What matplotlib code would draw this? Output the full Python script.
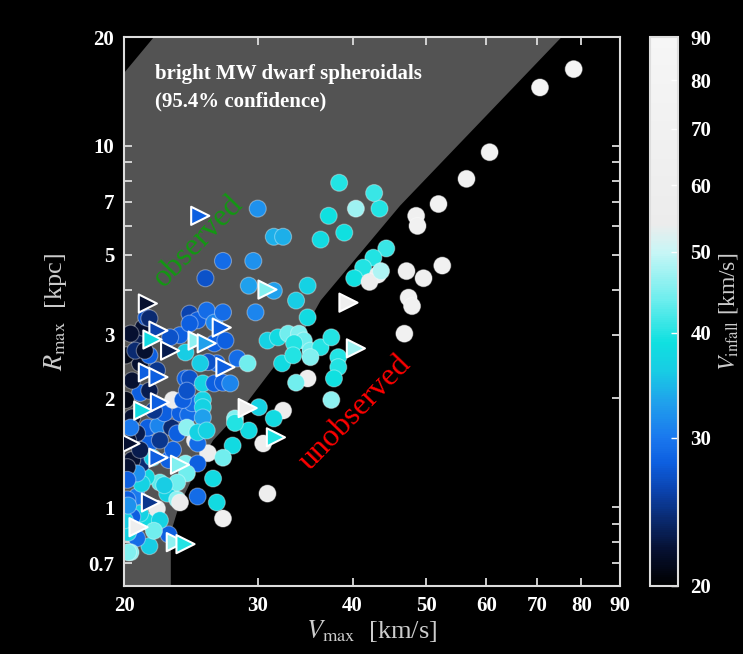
import numpy as np
import matplotlib.pyplot as plt
from matplotlib.colors import LinearSegmentedColormap, LogNorm

plt.rcParams['font.family'] = ['Liberation Serif', 'DejaVu Serif']
plt.rcParams['mathtext.fontset'] = 'stix'

# subhaloes shown as circles: Vmax [km/s], Rmax [kpc], Vinfall [km/s]
vmax_c = [78.2, 70.6, 60.6, 56.5, 51.9, 48.5, 48.7, 52.5, 49.6, 47.1, 47.4, 47.9, 46.8,
          43.4, 42.7, 40.4, 38.4, 37.2, 39.0, 36.3, 44.3, 42.6, 41.3, 40.2, 43.2, 42.1, 43.6,
          30.0, 31.5, 32.4, 27.0, 25.6, 29.6, 29.2, 31.5, 34.9, 33.7, 34.9, 29.8,
          30.9, 31.9, 32.9, 34.0, 34.5, 33.5, 35.2, 36.3, 37.5, 38.3, 38.3, 37.8, 34.9, 33.7,
          32.3, 33.4, 35.2, 37.5, 32.4, 30.1, 31.5, 29.2, 30.5, 27.8, 25.8, 27.0, 30.9, 26.2,
          26.5, 27.0, 25.0, 28.0, 28.0,
          22.9, 21.6, 20.8, 20.4, 21.5, 22.1, 20.8, 22.8, 23.5, 23.7, 22.9, 24.1, 24.8, 25.0,
          25.0, 24.2, 23.5, 22.3, 21.4, 21.1, 21.1, 20.5, 21.6, 21.5, 20.8, 22.2, 23.1, 23.5,
          22.6, 23.7, 24.3, 24.6, 25.4, 23.2, 21.0, 20.5, 20.5, 21.6, 22.1, 21.0, 21.6, 21.0,
          24.1, 23.7, 23.0, 21.2, 21.4, 20.4, 24.4, 25.0, 25.7, 26.3, 27.2, 26.3, 27.0, 28.2,
          29.1, 26.5, 25.8, 25.2, 24.1, 24.4, 25.4, 26.3, 27.0, 27.6, 23.9, 24.2, 25.4, 25.4,
          24.2, 25.0, 25.7, 23.2, 21.8, 20.8, 22.6, 21.0, 20.5, 20.2, 20.2, 20.2, 20.25, 20.25,
          20.1, 20.1, 20.25, 20.7, 21.3, 22.3, 21.0, 20.4, 21.9, 20.05, 20.25, 22.3, 21.9,
          24.4, 21.6]
rmax_c = [16.3, 14.5, 9.6, 8.1, 6.9, 6.4, 6.0, 4.66, 4.3, 4.5, 3.8, 3.6, 3.02,
          6.7, 7.4, 6.7, 7.9, 6.4, 5.75, 5.5, 5.2, 4.9, 4.6, 4.3, 4.4, 4.2, 4.5,
          6.7, 5.6, 5.6, 4.8, 4.3, 4.8, 4.1, 3.97, 4.1, 3.73, 3.35, 3.46,
          2.89, 2.95, 3.02, 3.02, 2.89, 2.84, 2.71, 2.77, 2.95, 2.6, 2.44, 2.27, 2.27, 2.21,
          2.5, 2.63, 2.6, 1.98, 1.85, 1.89, 1.76, 1.63, 1.5, 1.48, 1.41, 1.37, 1.09, 1.2,
          1.03, 0.93, 1.07, 1.76, 1.71,
          0.84, 0.78, 0.82, 0.75, 0.91, 0.99, 1.07, 1.09, 1.05, 1.03, 1.35, 1.32, 1.53, 1.5,
          1.32, 1.24, 1.17, 1.17, 1.21, 1.16, 1.32, 1.35, 1.5, 1.66, 1.6, 1.68, 1.66, 1.6,
          1.82, 1.82, 1.8, 1.94, 1.98, 1.98, 2.07, 1.77, 2.24, 2.1, 2.39, 2.5, 2.63, 2.89,
          2.68, 2.99, 2.95, 3.14, 3.35, 3.02, 3.43, 3.29, 3.5, 2.84, 2.89, 3.24, 3.46, 2.58,
          2.5, 2.5, 2.52, 2.5, 2.27, 2.27, 2.2, 2.2, 2.21, 2.2, 1.98, 2.1, 1.89, 1.77,
          1.66, 1.61, 1.63, 1.44, 1.37, 1.24, 1.15, 0.96, 0.94, 1.05, 1.29, 1.19, 0.85, 0.75,
          2.63, 1.98, 1.53, 2.71, 2.71, 1.53, 1.44, 1.66, 1.85, 0.92, 1.01, 0.92, 0.86,
          3.22, 3.33]
vinf_c = [85, 80, 75, 70, 70, 65, 70, 70, 65, 60, 65, 70, 70,
          40, 41, 47, 40, 39, 39, 38, 41, 40, 40, 39, 60, 55, 48,
          32, 34, 34, 29, 27, 32, 33, 33, 37, 36, 38, 31,
          37, 38, 44, 45, 44, 40, 44, 40, 40, 40, 40, 39, 60, 44,
          38, 40, 45, 46, 58, 37, 38, 38, 60, 38, 58, 44, 60, 38,
          38, 65, 29, 45, 40,
          28, 36, 29, 46, 38, 55, 30, 37, 46, 55, 28, 45, 55, 29,
          28, 44, 44, 43, 38, 37, 24, 22, 28, 28, 23, 31, 24, 28,
          28, 28, 29, 29, 37, 55, 28, 22, 22, 23, 25, 22, 28, 23,
          36, 28, 27, 22, 27, 22, 26, 28, 29, 28, 28, 31, 29, 29,
          44, 28, 27, 36, 28, 27, 37, 28, 28, 31, 28, 27, 37, 33,
          46, 37, 37, 28, 36, 32, 36, 37, 28, 28, 22, 28, 37, 45,
          21, 21, 22, 24, 22, 25, 23, 30, 25, 36, 32, 37, 44,
          28, 24]

# subhaloes shown as triangles
vmax_t = [25.2, 21.5, 22.2, 21.8, 23.0, 25.0, 25.7, 26.9, 27.2, 30.9, 21.5, 22.2, 22.3,
          21.2, 20.4, 22.2, 23.7, 21.7, 20.9, 23.4, 24.1, 39.5, 40.4, 29.1, 31.7]
rmax_t = [6.4, 3.66, 3.08, 2.91, 2.71, 2.89, 2.84, 3.14, 2.44, 4.0, 2.36, 2.29, 1.95,
          1.85, 1.5, 1.37, 1.31, 1.03, 0.88, 0.8, 0.79, 3.68, 2.75, 1.88, 1.56]
vinf_t = [28, 22, 26, 38, 23, 46, 33, 28, 28, 45, 28, 28, 28,
          38, 22, 28, 45, 25, 60, 46, 40, 60, 47, 60, 40]

# edge of the observed region (95.4% confidence)
bound_v = [23.05, 23.05, 23.6, 25.0, 26.2, 28.5, 31.5, 34.5, 36.3, 46.2, 75.4, 21.9, 20.0]
bound_r = [0.6, 0.85, 1.0, 1.29, 1.53, 1.85, 2.44, 3.08, 3.73, 6.83, 20.0, 20.0, 15.9]

# colour scale for Vinfall
cmap_v = [20, 22, 24, 26, 28, 30, 33, 36, 39, 44, 50, 54, 90]
cmap_c = ['#000000', '#061030', '#0a2a70', '#0b44b0', '#0d5fe0', '#1a78ee', '#20a0ec',
          '#18cce4', '#10e0e0', '#70eeee', '#c8f6f6', '#ececec', '#f6f6f6']

pos = np.log(np.array(cmap_v) / 20.0) / np.log(90 / 20.0)
cmap = LinearSegmentedColormap.from_list('vinf', list(zip(pos, cmap_c)))
norm = LogNorm(vmin=20, vmax=90)

fig = plt.figure(figsize=(7.43, 6.54), dpi=100, facecolor='black')
ax = fig.add_axes([0.1669, 0.104, 0.6676, 0.8394])
cax = fig.add_axes([0.8748, 0.104, 0.0377, 0.8394])
ax.set_facecolor('black')

ax.fill([20.0] + bound_v, [0.6] + bound_r, color='#535353', lw=0, zorder=0)

ax.scatter(vmax_c, rmax_c, c=vinf_c, cmap=cmap, norm=norm, s=150, marker='o',
           edgecolors=(1, 1, 1, 0.35), linewidths=0.8, zorder=2)
sc = ax.scatter(vmax_t, rmax_t, c=vinf_t, cmap=cmap, norm=norm, s=170, marker='>',
                edgecolors='white', linewidths=1.5, zorder=3)

ax.set_xscale('log')
ax.set_yscale('log')
ax.set_xlim(20, 90)
ax.set_ylim(0.605, 20)

xt = [20, 30, 40, 50, 60, 70, 80, 90]
ax.set_xticks(xt)
ax.set_xticklabels([str(v) for v in xt])
ax.set_xticks([], minor=True)
yt = [0.7, 1, 2, 3, 5, 7, 10, 20]
ax.set_yticks(yt)
ax.set_yticklabels(['0.7', '1', '2', '3', '5', '7', '10', '20'])
ax.set_yticks([0.8, 0.9, 4, 6, 8, 9], minor=True)
ax.tick_params(which='both', direction='in', top=True, right=True, color='#dddddd',
               width=1.3, length=6, labelcolor='white', labelsize=15, pad=7)
for lab in ax.get_xticklabels() + ax.get_yticklabels():
    lab.set_fontweight('bold')
for sp in ax.spines.values():
    sp.set_color('#dddddd')
    sp.set_linewidth(1.5)

ax.set_xlabel(r'$V_{\rm max}$  [km/s]', color='#cccccc', fontsize=19, labelpad=2)
ax.set_ylabel(r'$R_{\rm max}$  [kpc]', color='#cccccc', fontsize=19, labelpad=14)

ax.text(0.0625, 0.95, 'bright MW dwarf spheroidals\n(95.4% confidence)',
        transform=ax.transAxes, ha='left', va='top', color='white', fontsize=15,
        fontweight='bold', linespacing=1.45)
ax.text(25.1, 5.46, 'observed', color='#119911', fontsize=23, rotation=46,
        ha='center', va='center', rotation_mode='anchor')
ax.text(40.4, 1.83, 'unobserved', color='#ff0000', fontsize=23, rotation=46,
        ha='center', va='center', rotation_mode='anchor')

cb = fig.colorbar(sc, cax=cax)
cb.set_ticks([20, 30, 40, 50, 60, 70, 80, 90])
cb.set_ticklabels(['20', '30', '40', '50', '60', '70', '80', '90'])
cb.minorticks_off()
cax.tick_params(direction='in', color='white', length=5, width=1.0, labelcolor='white',
                labelsize=15, pad=9)
for lab in cax.get_yticklabels():
    lab.set_fontweight('bold')
cb.outline.set_edgecolor('#dddddd')
cb.outline.set_linewidth(1.5)
cb.set_label(r'$V_{\rm infall}$ [km/s]', color='#cccccc', fontsize=17, labelpad=4)

fig.savefig('out.png', dpi=100, facecolor='black')
